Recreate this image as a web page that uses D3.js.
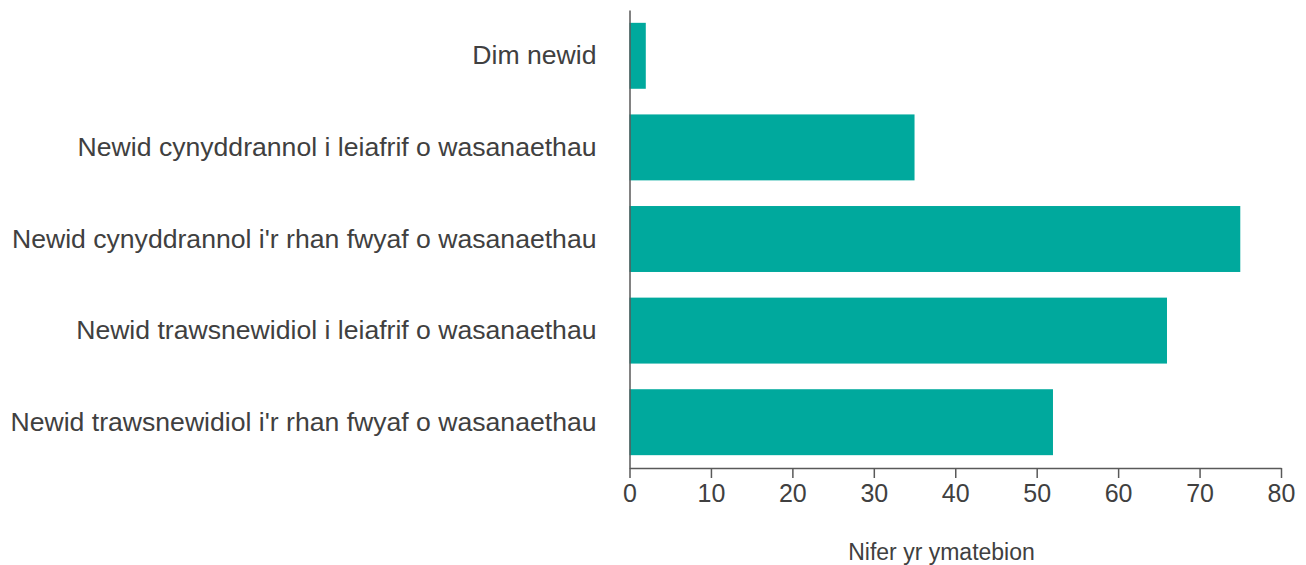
<!DOCTYPE html>
<html><head><meta charset="utf-8">
<script src="https://cdn.jsdelivr.net/npm/d3@7"></script>
<style>body{margin:0;background:#fff}svg{display:block}text{font-family:"Liberation Sans",Arial,sans-serif}</style>
</head><body>
<svg id="c" width="1306" height="565"></svg>
<script>
const categories = [
  "Dim newid",
  "Newid cynyddrannol i leiafrif o wasanaethau",
  "Newid cynyddrannol i'r rhan fwyaf o wasanaethau",
  "Newid trawsnewidiol i leiafrif o wasanaethau",
  "Newid trawsnewidiol i'r rhan fwyaf o wasanaethau"
];
const values = [2, 35, 75, 66, 52];
const xTicks = [0, 10, 20, 30, 40, 50, 60, 70, 80];
const xTitle = "Nifer yr ymatebion";

const svg = d3.select("#c");
const x = d3.scaleLinear().domain([0, 80]).range([629.5, 1281]);
const y = d3.scaleBand().domain(categories).range([10, 468]).paddingInner(0.28).paddingOuter(0.14);

svg.append("g").selectAll("rect").data(values).join("rect")
  .attr("x", x(0)).attr("y", (d, i) => y(categories[i]))
  .attr("width", d => x(d) - x(0)).attr("height", y.bandwidth())
  .attr("fill", "#00a99d");

const xa = svg.append("g").attr("transform", "translate(0,468)")
  .call(d3.axisBottom(x).tickValues(xTicks).tickSize(10).tickSizeOuter(0).tickPadding(6));
xa.select(".domain").attr("stroke", "#595959").attr("stroke-width", 1.5);
xa.selectAll(".tick line").attr("stroke", "#595959").attr("stroke-width", 1.5);
xa.selectAll("text").attr("font-size", 25).attr("fill", "#404040").attr("font-family", "Liberation Sans, Arial, sans-serif");

const ya = svg.append("g").attr("transform", "translate(629.5,0)")
  .call(d3.axisLeft(y).tickSize(0).tickPadding(33));
ya.select(".domain").attr("stroke", "#595959").attr("stroke-width", 1.5);
ya.selectAll("text").attr("font-size", 26.6).attr("fill", "#404040").attr("font-family", "Liberation Sans, Arial, sans-serif");

svg.append("text").attr("x", 941.5).attr("y", 560)
  .attr("text-anchor", "middle").attr("font-size", 23).attr("fill", "#404040").text(xTitle);
</script>
</body></html>
